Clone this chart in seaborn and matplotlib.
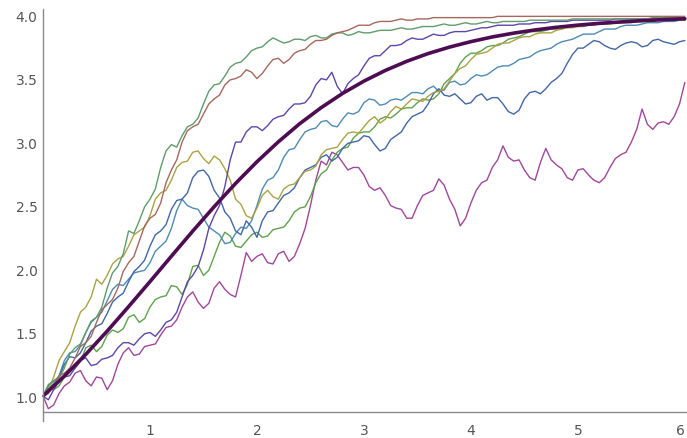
import numpy as np
import pandas as pd
import seaborn as sns
import matplotlib.pyplot as plt
from matplotlib.ticker import MultipleLocator, FixedLocator

# sample times: values at every 0.1 plus in-between readings at every 0.05
t_coarse = np.round(np.arange(0, 6.001, 0.1), 2)
t_mid = np.round(np.arange(0.05, 6.0, 0.1), 2)

# paths (step 0.1)
brown = [1.00, 1.08, 1.18, 1.30, 1.42, 1.58, 1.72, 1.85, 2.05, 2.22,
         2.40, 2.52, 2.78, 3.00, 3.12, 3.22, 3.34, 3.45, 3.50, 3.57,
         3.50, 3.60, 3.66, 3.65, 3.72, 3.77, 3.80, 3.84, 3.87, 3.90,
         3.92, 3.94, 3.95, 3.96, 3.96, 3.97, 3.97, 3.98, 3.98, 3.98,
         3.98, 3.98, 3.98, 3.99, 3.99, 3.99, 3.99, 3.99, 3.99, 3.99,
         3.99, 3.99, 3.99, 3.99, 3.99, 3.99, 3.99, 3.99, 3.99, 3.99,
         3.99]
green_a = [1.00, 1.12, 1.22, 1.38, 1.50, 1.62, 1.85, 2.02, 2.30, 2.38,
           2.55, 2.80, 2.98, 3.05, 3.14, 3.30, 3.45, 3.52, 3.62, 3.67,
           3.74, 3.79, 3.80, 3.79, 3.81, 3.83, 3.82, 3.85, 3.86, 3.85,
           3.86, 3.87, 3.88, 3.89, 3.89, 3.90, 3.91, 3.92, 3.92, 3.93,
           3.93, 3.94, 3.94, 3.95, 3.95, 3.95, 3.96, 3.96, 3.96, 3.96,
           3.97, 3.97, 3.97, 3.97, 3.97, 3.97, 3.97, 3.98, 3.98, 3.98,
           3.98]
yellow = [1.00, 1.15, 1.35, 1.55, 1.70, 1.92, 1.95, 2.08, 2.18, 2.30,
          2.42, 2.60, 2.70, 2.84, 2.92, 2.87, 2.89, 2.79, 2.55, 2.42,
          2.48, 2.62, 2.55, 2.66, 2.72, 2.78, 2.90, 2.95, 3.02, 3.08,
          3.12, 3.20, 3.18, 3.28, 3.30, 3.33, 3.36, 3.40, 3.48, 3.58,
          3.65, 3.70, 3.74, 3.78, 3.80, 3.83, 3.85, 3.86, 3.88, 3.90,
          3.91, 3.92, 3.93, 3.93, 3.94, 3.94, 3.95, 3.95, 3.96, 3.96,
          3.96]
violet = [1.00, 1.05, 1.15, 1.22, 1.30, 1.25, 1.30, 1.38, 1.42, 1.45,
          1.50, 1.52, 1.60, 1.78, 1.95, 2.15, 2.42, 2.65, 3.00, 3.08,
          3.12, 3.13, 3.20, 3.26, 3.30, 3.36, 3.50, 3.55, 3.38, 3.50,
          3.60, 3.68, 3.72, 3.76, 3.80, 3.81, 3.83, 3.84, 3.86, 3.87,
          3.88, 3.90, 3.91, 3.92, 3.92, 3.93, 3.94, 3.94, 3.95, 3.95,
          3.96, 3.96, 3.96, 3.96, 3.97, 3.97, 3.97, 3.97, 3.97, 3.97,
          3.97]
blue = [1.00, 1.12, 1.25, 1.30, 1.42, 1.55, 1.65, 1.78, 1.90, 2.02,
        2.18, 2.30, 2.47, 2.55, 2.72, 2.78, 2.62, 2.45, 2.30, 2.38,
        2.25, 2.45, 2.52, 2.60, 2.72, 2.80, 2.88, 2.85, 2.95, 3.00,
        3.05, 2.98, 2.95, 3.05, 3.15, 3.22, 3.30, 3.42, 3.36, 3.34,
        3.31, 3.38, 3.35, 3.30, 3.22, 3.34, 3.40, 3.42, 3.50, 3.62,
        3.74, 3.77, 3.79, 3.74, 3.76, 3.79, 3.75, 3.80, 3.79, 3.77,
        3.80]
cyan = [1.00, 1.10, 1.28, 1.35, 1.50, 1.62, 1.75, 1.88, 1.92, 1.98,
        2.05, 2.18, 2.32, 2.55, 2.48, 2.40, 2.30, 2.20, 2.28, 2.32,
        2.50, 2.70, 2.78, 2.94, 3.02, 3.10, 3.16, 3.13, 3.18, 3.22,
        3.31, 3.33, 3.30, 3.34, 3.36, 3.39, 3.42, 3.40, 3.47, 3.45,
        3.50, 3.52, 3.56, 3.60, 3.62, 3.66, 3.70, 3.73, 3.77, 3.80,
        3.83, 3.85, 3.87, 3.89, 3.91, 3.92, 3.93, 3.94, 3.95, 3.95,
        3.96]
green_b = [1.00, 1.05, 1.15, 1.22, 1.38, 1.35, 1.48, 1.50, 1.62, 1.58,
           1.70, 1.78, 1.87, 1.80, 2.02, 1.95, 2.10, 2.29, 2.18, 2.22,
           2.29, 2.26, 2.32, 2.38, 2.48, 2.57, 2.75, 2.86, 2.95, 3.03,
           3.08, 3.12, 3.20, 3.22, 3.27, 3.31, 3.33, 3.38, 3.50, 3.62,
           3.70, 3.72, 3.76, 3.78, 3.82, 3.85, 3.87, 3.88, 3.89, 3.91,
           3.91, 3.92, 3.93, 3.94, 3.94, 3.95, 3.95, 3.96, 3.96, 3.97,
           3.97]
magenta = [1.00, 0.93, 1.08, 1.18, 1.12, 1.15, 1.05, 1.25, 1.38, 1.33,
           1.40, 1.48, 1.55, 1.70, 1.82, 1.69, 1.85, 1.84, 1.78, 2.13,
           2.10, 2.05, 2.12, 2.06, 2.20, 2.50, 2.85, 2.92, 2.84, 2.80,
           2.74, 2.62, 2.58, 2.48, 2.40, 2.50, 2.60, 2.71, 2.55, 2.34,
           2.52, 2.68, 2.80, 2.97, 2.85, 2.78, 2.70, 2.95, 2.82, 2.72,
           2.78, 2.74, 2.68, 2.80, 2.90, 3.00, 3.26, 3.10, 3.16, 3.20,
           3.47]

# in-between readings (t = 0.05, 0.15, ...)
brown_mid = [1.02, 1.16, 1.22, 1.39, 1.47, 1.68, 1.76, 1.98, 2.10, 2.34,
             2.43, 2.68, 2.86, 3.09, 3.14, 3.30, 3.37, 3.49, 3.52, 3.55,
             3.54, 3.65, 3.62, 3.70, 3.73, 3.80, 3.81, 3.86, 3.88, 3.92,
             3.92, 3.95, 3.95, 3.97, 3.96, 3.97, 3.98, 3.98, 3.98, 3.98,
             3.98, 3.98, 3.99, 3.99, 3.99, 3.99, 3.99, 3.99, 3.99, 3.99,
             3.99, 3.99, 3.99, 3.99, 3.99, 3.99, 3.99, 3.99, 3.99, 3.99]
green_a_mid = [1.09, 1.14, 1.33, 1.41, 1.59, 1.70, 1.97, 2.12, 2.28, 2.49,
               2.63, 2.93, 2.96, 3.12, 3.19, 3.40, 3.46, 3.59, 3.63, 3.72,
               3.75, 3.82, 3.78, 3.81, 3.80, 3.84, 3.82, 3.86, 3.84, 3.87,
               3.86, 3.88, 3.88, 3.90, 3.89, 3.91, 3.91, 3.93, 3.92, 3.94,
               3.93, 3.95, 3.94, 3.95, 3.95, 3.96, 3.96, 3.96, 3.96, 3.97,
               3.97, 3.97, 3.97, 3.97, 3.97, 3.97, 3.97, 3.98, 3.98, 3.98]
yellow_mid = [1.05, 1.28, 1.42, 1.66, 1.78, 1.88, 2.04, 2.10, 2.27, 2.33,
              2.55, 2.62, 2.80, 2.85, 2.93, 2.83, 2.86, 2.70, 2.51, 2.40,
              2.58, 2.57, 2.63, 2.67, 2.77, 2.81, 2.94, 2.96, 3.07, 3.07,
              3.17, 3.15, 3.24, 3.26, 3.34, 3.32, 3.39, 3.42, 3.54, 3.60,
              3.69, 3.71, 3.77, 3.78, 3.82, 3.83, 3.86, 3.86, 3.89, 3.90,
              3.92, 3.92, 3.93, 3.94, 3.94, 3.95, 3.95, 3.96, 3.96, 3.96]
violet_mid = [0.97, 1.12, 1.16, 1.28, 1.24, 1.29, 1.32, 1.42, 1.40, 1.49,
              1.47, 1.58, 1.66, 1.90, 2.02, 2.32, 2.50, 2.86, 3.00, 3.12,
              3.09, 3.18, 3.21, 3.30, 3.31, 3.45, 3.49, 3.44, 3.46, 3.53,
              3.66, 3.68, 3.76, 3.77, 3.82, 3.81, 3.85, 3.84, 3.87, 3.87,
              3.89, 3.90, 3.92, 3.92, 3.93, 3.93, 3.94, 3.95, 3.95, 3.96,
              3.96, 3.96, 3.96, 3.97, 3.97, 3.97, 3.97, 3.97, 3.97, 3.97]
blue_mid = [1.08, 1.15, 1.31, 1.34, 1.51, 1.57, 1.74, 1.81, 1.98, 2.07,
            2.27, 2.35, 2.54, 2.60, 2.77, 2.73, 2.56, 2.40, 2.27, 2.33,
            2.38, 2.46, 2.58, 2.64, 2.78, 2.82, 2.90, 2.88, 2.99, 3.01,
            3.04, 2.93, 3.02, 3.08, 3.20, 3.24, 3.38, 3.37, 3.38, 3.30,
            3.36, 3.33, 3.35, 3.24, 3.25, 3.39, 3.38, 3.47, 3.54, 3.69,
            3.74, 3.80, 3.76, 3.73, 3.78, 3.78, 3.76, 3.81, 3.78, 3.79]
cyan_mid = [1.06, 1.16, 1.34, 1.40, 1.58, 1.66, 1.84, 1.87, 1.97, 1.99,
            2.14, 2.22, 2.46, 2.50, 2.47, 2.33, 2.27, 2.21, 2.33, 2.38,
            2.63, 2.72, 2.88, 2.95, 3.08, 3.11, 3.17, 3.12, 3.23, 3.24,
            3.34, 3.29, 3.33, 3.33, 3.39, 3.38, 3.44, 3.41, 3.48, 3.46,
            3.53, 3.53, 3.59, 3.60, 3.65, 3.67, 3.72, 3.74, 3.79, 3.81,
            3.85, 3.85, 3.89, 3.89, 3.92, 3.92, 3.94, 3.94, 3.95, 3.96]
green_b_mid = [1.06, 1.08, 1.21, 1.27, 1.40, 1.39, 1.52, 1.53, 1.64, 1.61,
               1.76, 1.79, 1.86, 1.88, 2.03, 1.99, 2.21, 2.26, 2.17, 2.27,
               2.25, 2.31, 2.33, 2.45, 2.49, 2.68, 2.78, 2.92, 2.96, 3.07,
               3.08, 3.18, 3.19, 3.26, 3.27, 3.34, 3.34, 3.46, 3.54, 3.67,
               3.70, 3.75, 3.76, 3.81, 3.83, 3.87, 3.87, 3.89, 3.89, 3.92,
               3.91, 3.93, 3.93, 3.94, 3.95, 3.95, 3.96, 3.96, 3.97, 3.97]
magenta_mid = [0.90, 1.02, 1.11, 1.20, 1.08, 1.14, 1.12, 1.34, 1.32, 1.39,
               1.41, 1.54, 1.60, 1.78, 1.74, 1.73, 1.90, 1.80, 1.95, 2.06,
               2.12, 2.04, 2.14, 2.10, 2.32, 2.70, 2.82, 2.90, 2.78, 2.80,
               2.65, 2.64, 2.50, 2.47, 2.40, 2.58, 2.62, 2.66, 2.47, 2.40,
               2.62, 2.70, 2.86, 2.88, 2.86, 2.72, 2.84, 2.86, 2.79, 2.70,
               2.79, 2.70, 2.72, 2.87, 2.92, 3.10, 3.14, 3.15, 3.14, 3.30]

# mean curve, read every 0.2
t_mean = np.round(np.arange(0, 6.01, 0.2), 1)
mean_curve = [1.000, 1.157, 1.328, 1.511, 1.704, 1.901, 2.101, 2.299, 2.491, 2.674,
              2.845, 3.002, 3.145, 3.271, 3.383, 3.480, 3.564, 3.636, 3.697, 3.748,
              3.791, 3.828, 3.858, 3.883, 3.904, 3.921, 3.935, 3.946, 3.956, 3.964,
              3.971]


def weave(a, b):
    out = np.empty(len(a) + len(b))
    out[0::2] = a
    out[1::2] = b
    return out


t_fine = weave(t_coarse, t_mid)

paths = [
    (magenta, magenta_mid, '#a0479a'),
    (green_b, green_b_mid, '#5ea24c'),
    (cyan, cyan_mid, '#4c8cb2'),
    (blue, blue_mid, '#4266a6'),
    (yellow, yellow_mid, '#aaa244'),
    (violet, violet_mid, '#5c46a8'),
    (green_a, green_a_mid, '#5f9c6c'),
    (brown, brown_mid, '#a6685c'),
]

sns.set_style('white')
fig = plt.figure(figsize=(6.87, 4.39), dpi=100)
ax = fig.add_axes([43 / 687, 0.0378, 1 - 43 / 687, 0.940])

for vals, mids, col in paths:
    sns.lineplot(x=t_fine, y=weave(vals, mids), ax=ax, color=col, linewidth=1.0,
                 sort=False, estimator=None, clip_on=False)

sns.lineplot(x=t_mean, y=mean_curve, ax=ax, color='#4e0c52', linewidth=2.6,
             sort=False, estimator=None)

ax.set_xlim(0, 6.02)
ax.set_ylim(0.80, 4.05)

for s in ['top', 'right']:
    ax.spines[s].set_visible(False)
ax.spines['bottom'].set_position(('data', 0.874))
ax.spines['left'].set_position(('data', 0))
for s in ['bottom', 'left']:
    ax.spines[s].set_color('#8a8a8a')
    ax.spines[s].set_linewidth(1.0)

ax.xaxis.set_major_locator(FixedLocator([1, 2, 3, 4, 5, 6]))
ax.xaxis.set_minor_locator(MultipleLocator(0.2))
ax.yaxis.set_major_locator(FixedLocator([1.0, 1.5, 2.0, 2.5, 3.0, 3.5, 4.0]))
ax.yaxis.set_minor_locator(MultipleLocator(0.1))
ax.set_xticklabels(['1', '2', '3', '4', '5', '6'])
ax.set_yticklabels(['1.0', '1.5', '2.0', '2.5', '3.0', '3.5', '4.0'])
ax.tick_params(which='major', direction='in', length=5, width=0.9,
               color='#6a6a6a', labelcolor='#555555', labelsize=10)
ax.tick_params(which='minor', direction='in', length=2.5, width=0.7,
               color='#8a8a8a')
ax.tick_params(axis='x', which='major', pad=8)
ax.tick_params(axis='y', which='major', pad=4)
ax.get_xticklabels()[-1].set_horizontalalignment('right')
ax.set_xlabel('')
ax.set_ylabel('')

fig.savefig('out.png', dpi=100)
